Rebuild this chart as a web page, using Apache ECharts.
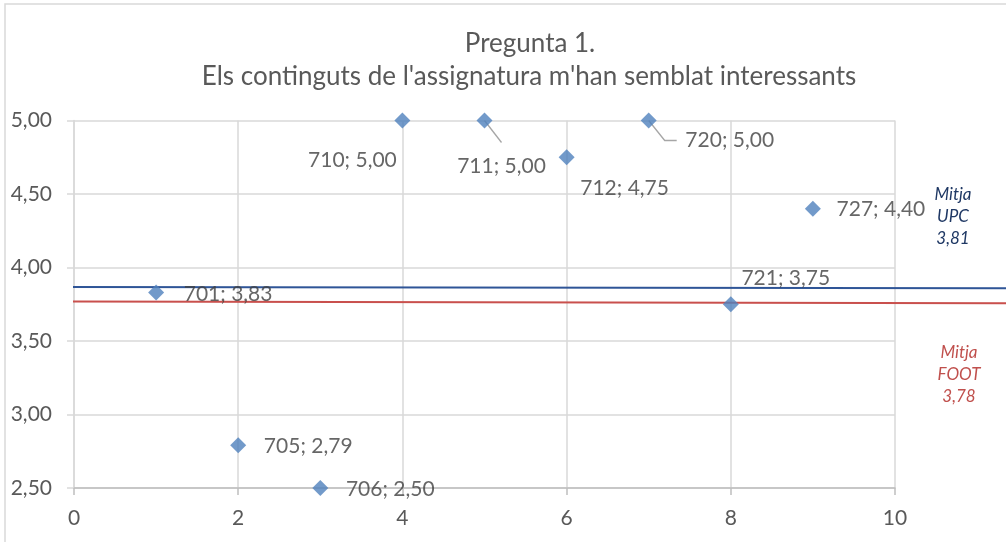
<!DOCTYPE html>
<html>
<head>
<meta charset="utf-8">
<script src="https://cdn.jsdelivr.net/npm/echarts@6/dist/echarts.min.js"></script>
<style>html,body{margin:0;padding:0;background:#fff;}#c{width:1006px;height:542px;}</style>
</head>
<body>
<div id="c"></div>
<script>
const titleLines = ['Pregunta 1.', "Els continguts de l'assignatura m'han semblat interessants"];
const codes = ['701', '705', '706', '710', '711', '712', '720', '721', '727'];
const xs = [1, 2, 3, 4, 5, 6, 7, 8, 9];
const ys = [3.83, 2.79, 2.50, 5.00, 5.00, 4.75, 5.00, 3.75, 4.40];
const labelShift = [[72, 2], [70, 1], [70, 1], [-50, 40], [17, 46], [58, 31], [81, 20], [55, -26], [68, 1]];
const leaderPath = [null, null, null, null, [[0, 0], [17, 22]], null, [[0, 0], [16, 20], [28, 20]], null, null];
const upcLine = [[-0.06, 3.868], [11.4, 3.858]];
const footLine = [[-0.06, 3.768], [11.4, 3.756]];
const upcText = ['Mitja', 'UPC', '3,81'];
const footText = ['Mitja', 'FOOT', '3,78'];
const xTicks = {min: 0, max: 10, step: 2};
const yTicks = {min: 2.5, max: 5, step: 0.5};

const FONT = 'Lato';
const TXT = '#595959';
const fmt = v => v.toFixed(2).replace('.', ',');

const chart = echarts.init(document.getElementById('c'), null, {renderer: 'canvas'});

const GL = 74, GR = 111, GT = 120.5, GB = 54;
const plotW = 1006 - GL - GR;
const wideMax = xTicks.min + (xTicks.max - xTicks.min) * (1006 - GL) / plotW;

const pts = xs.map((x, i) => ({value: [x, ys[i]], name: codes[i]}));

chart.setOption({
  animation: false,
  backgroundColor: '#fff',
  grid: [
    {left: GL, right: GR, top: GT, bottom: GB, containLabel: false},
    {left: GL, right: 0, top: GT, bottom: GB, containLabel: false}
  ],
  xAxis: [{
    type: 'value', gridIndex: 0, min: xTicks.min, max: xTicks.max, interval: xTicks.step,
    axisLine: {show: true, onZero: false, lineStyle: {color: '#bfbfbf', width: 1.5}},
    axisTick: {show: true, inside: false, length: 7, lineStyle: {color: '#bfbfbf', width: 1.5}},
    axisLabel: {color: TXT, fontFamily: FONT, fontSize: 21, margin: 20},
    splitLine: {show: true, lineStyle: {color: '#d9d9d9', width: 1.5}}
  }, {
    type: 'value', gridIndex: 1, min: xTicks.min, max: wideMax, show: false,
    splitLine: {show: false}
  }],
  yAxis: [{
    type: 'value', gridIndex: 0, min: yTicks.min, max: yTicks.max, interval: yTicks.step,
    axisLine: {show: true, onZero: false, lineStyle: {color: '#d9d9d9', width: 1.5}},
    axisTick: {show: true, inside: false, length: 7, lineStyle: {color: '#d9d9d9', width: 1.5}},
    axisLabel: {color: TXT, fontFamily: FONT, fontSize: 21, margin: 22, formatter: v => fmt(v)},
    splitLine: {show: true, lineStyle: {color: '#d9d9d9', width: 1.5}}
  }, {
    type: 'value', gridIndex: 1, min: yTicks.min, max: yTicks.max, show: false,
    splitLine: {show: false}
  }],
  series: [
    {
      type: 'line', xAxisIndex: 1, yAxisIndex: 1, data: upcLine, clip: false, symbol: 'none', silent: true,
      lineStyle: {color: '#2f5597', width: 2}, z: 3
    },
    {
      type: 'line', xAxisIndex: 1, yAxisIndex: 1, data: footLine, clip: false, symbol: 'none', silent: true,
      lineStyle: {color: '#c9504d', width: 2}, z: 3
    },
    {
      type: 'custom', xAxisIndex: 0, yAxisIndex: 0, data: pts, clip: false, silent: true, z: 4,
      renderItem: (params, api) => {
        const path = leaderPath[params.dataIndex];
        if (!path) return null;
        const c = api.coord([api.value(0), api.value(1)]);
        return {
          type: 'polyline',
          shape: {points: path.map(p => [c[0] + p[0], c[1] + p[1]])},
          style: {stroke: '#a6a6a6', lineWidth: 1.3, fill: null}
        };
      }
    },
    {
      type: 'scatter', xAxisIndex: 0, yAxisIndex: 0, data: pts, clip: false, symbol: 'diamond', symbolSize: 16,
      itemStyle: {color: '#4f81bd'}, z: 5,
      label: {
        show: true, position: 'inside', color: '#404040', fontFamily: FONT, fontSize: 21,
        formatter: p => p.name + '; ' + fmt(p.value[1])
      },
      labelLayout: p => ({dx: labelShift[p.dataIndex][0], dy: labelShift[p.dataIndex][1]})
    }
  ],
  graphic: [
    {type: 'rect', shape: {x: 5, y: 4, width: 1020, height: 560}, style: {fill: 'none', stroke: '#d9d9d9', lineWidth: 1.5}, silent: true},
    {type: 'text', x: 530, y: 44, style: {text: titleLines[0], fill: TXT, font: '26px ' + FONT, textAlign: 'center', textVerticalAlign: 'middle'}},
    {type: 'text', x: 529, y: 77, style: {text: titleLines[1], fill: TXT, font: '26px ' + FONT, textAlign: 'center', textVerticalAlign: 'middle'}},
    {type: 'text', x: 953, y: 217, style: {text: upcText.join('\n'), fill: '#1f3864', font: 'italic 17px ' + FONT, textAlign: 'center', textVerticalAlign: 'middle', lineHeight: 22}},
    {type: 'text', x: 959, y: 375, style: {text: footText.join('\n'), fill: '#c0504d', font: 'italic 17px ' + FONT, textAlign: 'center', textVerticalAlign: 'middle', lineHeight: 22}}
  ]
});
</script>
</body>
</html>
